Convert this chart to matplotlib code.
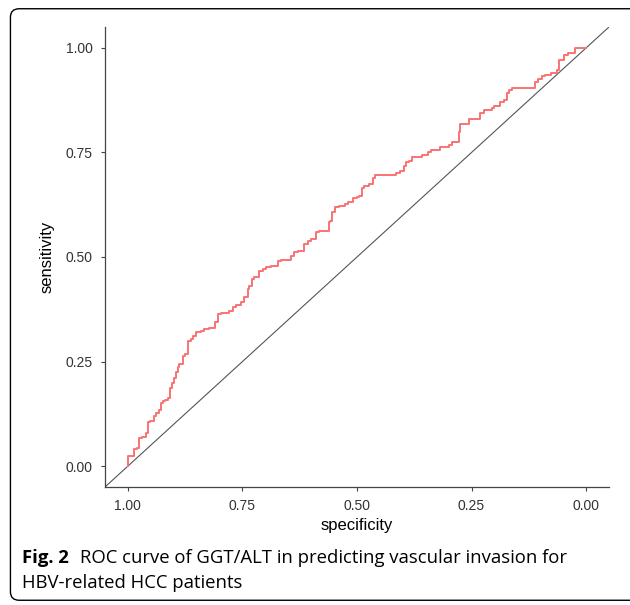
import matplotlib
matplotlib.use("Agg")
import matplotlib.pyplot as plt
from matplotlib.patches import FancyBboxPatch

# ROC points (specificity, sensitivity)
specificity = [
    1.000, 0.999, 0.987, 0.980, 0.976, 0.969, 0.961, 0.956, 0.952, 0.943,
    0.939, 0.932, 0.928, 0.923, 0.919, 0.912, 0.908, 0.904, 0.899, 0.895,
    0.891, 0.888, 0.880, 0.875, 0.869, 0.862, 0.858, 0.851, 0.840, 0.834,
    0.823, 0.810, 0.803, 0.796, 0.779, 0.770, 0.764, 0.753, 0.746, 0.737,
    0.735, 0.729, 0.724, 0.713, 0.705, 0.698, 0.687, 0.672, 0.665, 0.643,
    0.637, 0.628, 0.615, 0.606, 0.600, 0.589, 0.584, 0.562, 0.560, 0.554,
    0.549, 0.540, 0.527, 0.519, 0.508, 0.501, 0.495, 0.490, 0.484, 0.473,
    0.464, 0.460, 0.451, 0.414, 0.407, 0.398, 0.394, 0.387, 0.381, 0.374,
    0.359, 0.352, 0.344, 0.339, 0.319, 0.300, 0.293, 0.287, 0.278, 0.276,
    0.271, 0.256, 0.249, 0.232, 0.223, 0.206, 0.201, 0.188, 0.179, 0.173,
    0.168, 0.162, 0.151, 0.112, 0.105, 0.096, 0.090, 0.077, 0.063, 0.059,
    0.048, 0.039, 0.024, 0.015, 0.000,
]
sensitivity = [
    0.000, 0.024, 0.024, 0.040, 0.043, 0.067, 0.069, 0.079, 0.105, 0.107,
    0.119, 0.126, 0.133, 0.150, 0.155, 0.157, 0.162, 0.186, 0.198, 0.210,
    0.226, 0.238, 0.245, 0.264, 0.269, 0.298, 0.305, 0.312, 0.321, 0.324,
    0.329, 0.331, 0.345, 0.364, 0.367, 0.371, 0.381, 0.386, 0.393, 0.405,
    0.424, 0.431, 0.448, 0.452, 0.467, 0.471, 0.476, 0.479, 0.490, 0.493,
    0.502, 0.512, 0.514, 0.531, 0.538, 0.543, 0.560, 0.562, 0.583, 0.586,
    0.607, 0.619, 0.621, 0.626, 0.631, 0.640, 0.643, 0.645, 0.664, 0.669,
    0.674, 0.690, 0.695, 0.695, 0.702, 0.705, 0.717, 0.726, 0.729, 0.738,
    0.738, 0.743, 0.745, 0.752, 0.755, 0.762, 0.769, 0.776, 0.776, 0.800,
    0.817, 0.819, 0.829, 0.831, 0.845, 0.852, 0.857, 0.860, 0.871, 0.876,
    0.893, 0.900, 0.905, 0.905, 0.919, 0.926, 0.933, 0.936, 0.940, 0.948,
    0.971, 0.983, 0.988, 1.000, 1.000,
]
ticks = [1.00, 0.75, 0.50, 0.25, 0.00]
tick_labels = ["1.00", "0.75", "0.50", "0.25", "0.00"]

plt.rcParams["font.family"] = ["Liberation Sans", "DejaVu Sans"]

fig = plt.figure(figsize=(6.3, 6.05), dpi=100)
ax = fig.add_axes([105 / 630, 118 / 605, 504 / 630, 460 / 605])

ax.axline((1, 0), (0, 1), color="#555555", lw=0.8)
ax.plot(specificity, sensitivity, drawstyle="steps-pre",
        color="#fa7272", lw=1.4)

ax.set_xlim(1.05, -0.05)
ax.set_ylim(-0.05, 1.05)
ax.set_xticks(ticks)
ax.set_xticklabels(tick_labels)
ax.set_yticks(ticks)
ax.set_yticklabels(tick_labels)
ax.tick_params(direction="out", length=3, width=0.8, color="#444444",
               labelcolor="#333333", labelsize=10, pad=6)
for side in ["top", "right"]:
    ax.spines[side].set_visible(False)
for side in ["left", "bottom"]:
    ax.spines[side].set_color("#444444")
    ax.spines[side].set_linewidth(0.9)
ax.set_xlabel("specificity", fontsize=12, labelpad=3)
ax.set_ylabel("sensitivity", fontsize=12, labelpad=8)

# caption
fig.text(22 / 630, 1 - 563 / 605, "Fig. 2", family="Open Sans",
         fontweight="bold", fontsize=13.3, va="baseline")
fig.text(80 / 630, 1 - 563 / 605,
         "ROC curve of GGT/ALT in predicting vascular invasion for",
         family="Open Sans", fontsize=13.3, va="baseline")
fig.text(22 / 630, 1 - 588 / 605, "HBV-related HCC patients",
         family="Open Sans", fontsize=13.3, va="baseline")

# rounded frame, open on the right like the cropped figure box
frame = FancyBboxPatch((18 / 630, 12 / 605), 900 / 630, 577 / 605,
                       boxstyle="round,pad=0.012,rounding_size=0.014",
                       transform=fig.transFigure, fill=False,
                       edgecolor="black", lw=1.0, clip_on=False)
fig.patches.append(frame)

fig.savefig("out.png", dpi=100)
